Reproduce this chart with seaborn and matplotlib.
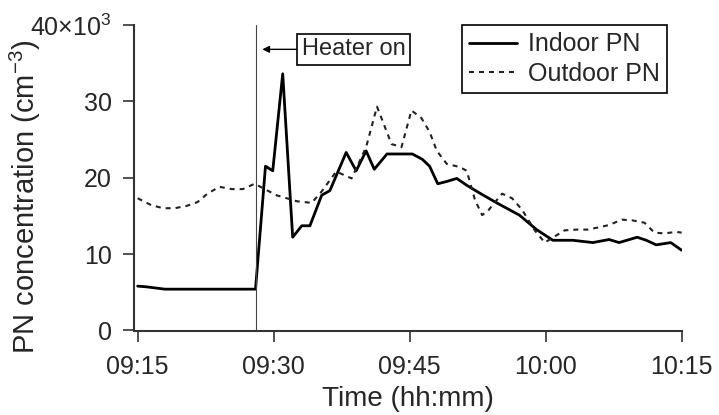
import pandas as pd
import matplotlib
matplotlib.use("Agg")
import matplotlib.pyplot as plt
import matplotlib.dates as mdates
import seaborn as sns

# values (PN in thousands per cm^3)
indoor_time = ["09:15:00", "09:16:00", "09:18:00", "09:28:00", "09:29:06", "09:29:54",
               "09:31:00", "09:32:06", "09:33:06", "09:34:00", "09:35:18", "09:36:12",
               "09:38:00", "09:39:06", "09:40:12", "09:41:06", "09:42:30", "09:45:18",
               "09:46:24", "09:47:12", "09:48:06", "09:49:06", "09:50:12", "09:51:18",
               "09:52:42", "09:54:36", "09:57:06", "09:59:00", "10:00:48", "10:03:00",
               "10:05:12", "10:07:00", "10:08:06", "10:10:06", "10:11:06", "10:12:12",
               "10:13:48", "10:15:00"]
indoor_pn = [5.8, 5.7, 5.4, 5.4, 21.5, 20.9,
             33.6, 12.2, 13.7, 13.7, 17.7, 18.3,
             23.3, 20.9, 23.5, 21.1, 23.1, 23.1,
             22.4, 21.5, 19.2, 19.5, 19.9, 19.0,
             18.0, 16.7, 15.1, 13.2, 11.8, 11.8,
             11.5, 11.9, 11.5, 12.2, 11.8, 11.2,
             11.5, 10.5]

outdoor_time = ["09:15:00", "09:16:30", "09:17:48", "09:19:06", "09:20:24", "09:21:36",
                "09:22:42", "09:24:00", "09:25:24", "09:26:36", "09:27:54", "09:30:18",
                "09:32:36", "09:34:12", "09:35:18", "09:36:54", "09:38:36", "09:40:12",
                "09:41:24", "09:43:00", "09:44:06", "09:45:12", "09:46:18", "09:47:12",
                "09:48:00", "09:49:06", "09:50:30", "09:51:18", "09:52:12", "09:53:00",
                "09:53:36", "09:55:12", "09:56:18", "09:57:24", "09:58:48", "09:59:54",
                "10:02:06", "10:03:24", "10:04:36", "10:05:54", "10:07:00", "10:08:24",
                "10:09:36", "10:10:54", "10:12:00", "10:13:06", "10:14:24", "10:15:00"]
outdoor_pn = [17.3, 16.4, 16.0, 16.0, 16.3, 16.8,
              17.9, 18.8, 18.5, 18.5, 19.2, 17.7,
              16.9, 16.7, 18.2, 20.8, 19.9, 24.0,
              29.3, 24.4, 24.0, 28.8, 27.8, 26.0,
              23.5, 21.8, 21.4, 20.9, 17.1, 15.1,
              15.6, 17.9, 17.3, 15.8, 13.1, 11.5,
              13.1, 13.2, 13.2, 13.5, 13.8, 14.5,
              14.4, 14.1, 12.8, 12.7, 12.9, 12.8]

heater_time = "09:28:00"
x_ticks = ["09:15", "09:30", "09:45", "10:00", "10:15"]
y_ticks = [0, 10, 20, 30, 40]
y_tick_labels = ["0", "10", "20", "30", r"40$\times$10$^3$"]

day = "2015-01-01 "
indoor = pd.DataFrame({"Time": pd.to_datetime([day + t for t in indoor_time]), "PN": indoor_pn})
outdoor = pd.DataFrame({"Time": pd.to_datetime([day + t for t in outdoor_time]), "PN": outdoor_pn})

sns.set_theme(style="ticks")
plt.rcParams["font.family"] = ["Liberation Sans", "DejaVu Sans"]
plt.rcParams["mathtext.fontset"] = "custom"
plt.rcParams["mathtext.rm"] = "Liberation Sans"
plt.rcParams["mathtext.it"] = "Liberation Sans:italic"

fig = plt.figure(figsize=(7.19, 4.15), dpi=100)
ax = fig.add_axes([0.186, 0.202, 0.762, 0.738])

sns.lineplot(data=indoor, x="Time", y="PN", ax=ax, color="black", lw=2.0, label="Indoor PN")
sns.lineplot(data=outdoor, x="Time", y="PN", ax=ax, color="#222222", lw=1.5,
             linestyle=(0, (2.4, 2.4)), label="Outdoor PN")

heater = pd.Timestamp(day + heater_time)
ax.axvline(heater, color="#444444", lw=0.8)
ax.annotate("Heater on", xy=(heater + pd.Timedelta(seconds=45), 36.8),
            xytext=(pd.Timestamp(day + "09:38:48"), 36.8), ha="center", va="center",
            fontsize=17,
            bbox=dict(boxstyle="square,pad=0.2", fc="white", ec="black", lw=1.2),
            arrowprops=dict(arrowstyle="-|>", color="black", lw=1.0, shrinkA=0, shrinkB=0,
                            mutation_scale=10))

xt = [pd.Timestamp(day + t) for t in x_ticks]
ax.set_xticks(xt)
ax.xaxis.set_major_formatter(mdates.DateFormatter("%H:%M"))
ax.set_xlim(xt[0] - pd.Timedelta(seconds=26), xt[-1])
ax.set_ylim(-0.1, 40)
ax.set_yticks(y_ticks)
ax.set_yticklabels(y_tick_labels)

ax.set_xlabel("Time (hh:mm)", fontsize=20, labelpad=5)
ax.set_ylabel(r"PN concentration (cm$^{-3}$)", fontsize=21)
ax.yaxis.set_label_coords(-0.165, 0.44)
ax.tick_params(axis="both", labelsize=18, length=8, width=1.2, direction="out",
               color="#333333")
ax.tick_params(axis="x", pad=9)
ax.tick_params(axis="y", pad=8)
for s in ["left", "bottom"]:
    ax.spines[s].set_linewidth(1.5)
    ax.spines[s].set_color("#333333")
sns.despine(ax=ax)

leg = ax.legend(loc="upper right", bbox_to_anchor=(0.974, 1.0), borderaxespad=0,
                fontsize=18, frameon=True, fancybox=False, framealpha=1,
                edgecolor="black", handlelength=1.9, handletextpad=0.45,
                borderpad=0.3, labelspacing=0.22)
leg.get_frame().set_linewidth(1.2)

fig.savefig("out.png", dpi=100)
